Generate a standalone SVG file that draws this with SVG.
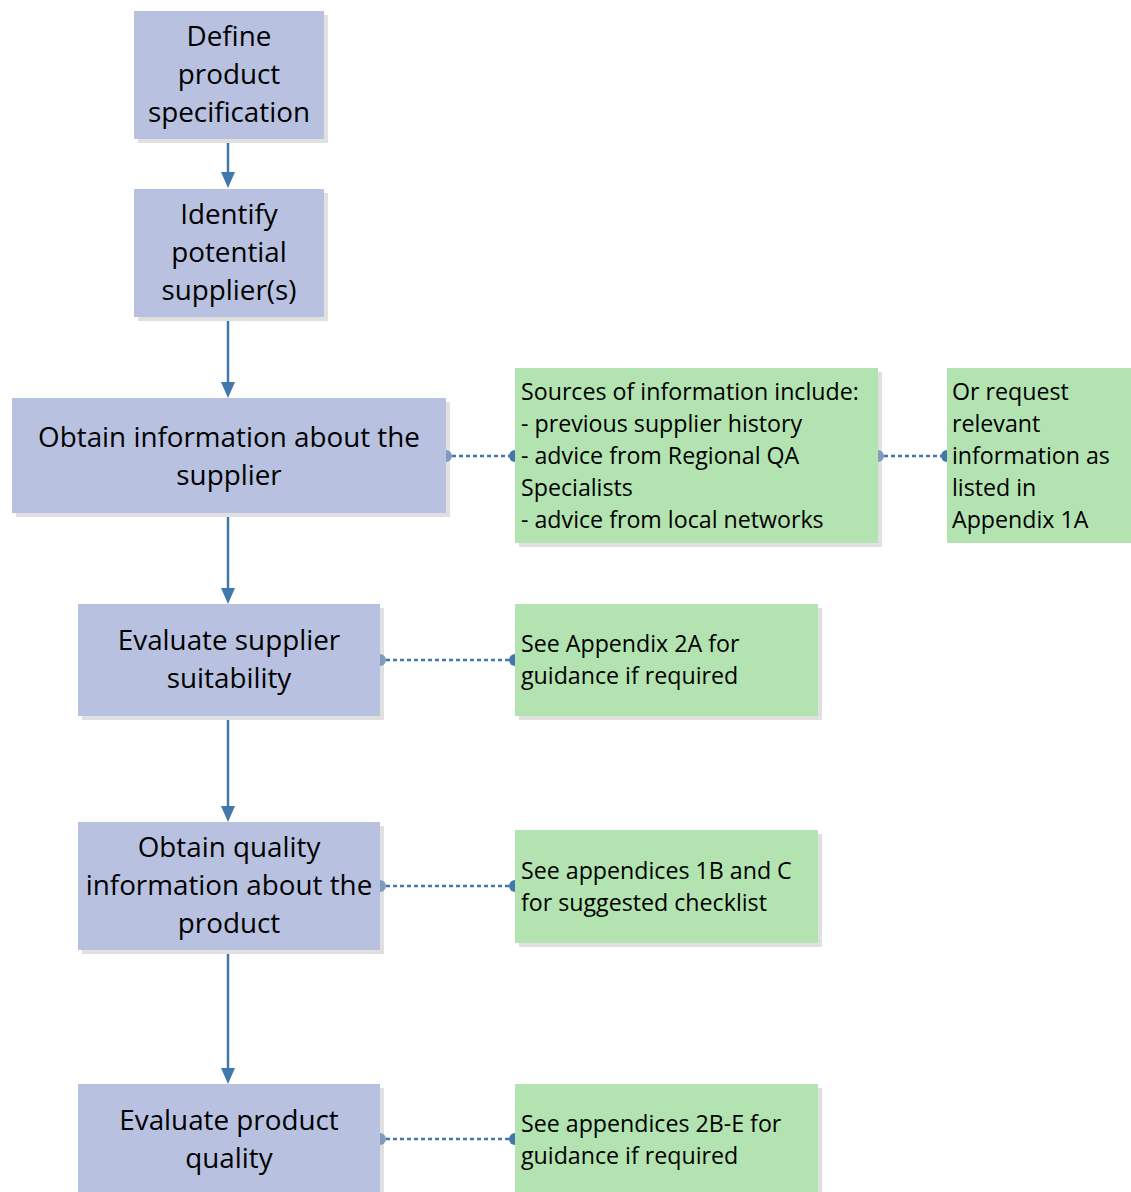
<svg xmlns="http://www.w3.org/2000/svg" width="1131" height="1192" viewBox="0 0 1131 1192">
<defs>
<style>
.sh{fill:#e0e0e0}
.bx{fill:#b8c2e0}
.gn{fill:#b3e3b0}
.t{font-family:"Open Sans",Lato,sans-serif;font-size:27.8px;fill:#000;text-anchor:middle}
.g{font-family:"Open Sans",Lato,sans-serif;font-size:23.2px;fill:#000}
.ar{stroke:#4277ab;stroke-width:2.5;fill:none}
.dt{stroke:#4277ab;stroke-width:2.5;stroke-dasharray:4 3;fill:none}
.dot{fill:#4277ab}
.dotl{fill:#7f9cbd}
</style>
</defs>
<rect width="1131" height="1192" fill="#fff"/>
<g id="connectors">
<line class="ar" x1="228" y1="139" x2="228" y2="173"/>
<path d="M221,172 L235,172 L228,188 Z" fill="#4277ab"/>
<line class="ar" x1="228" y1="317" x2="228" y2="383"/>
<path d="M221,382 L235,382 L228,398 Z" fill="#4277ab"/>
<line class="ar" x1="228" y1="513" x2="228" y2="589"/>
<path d="M221,588 L235,588 L228,604 Z" fill="#4277ab"/>
<line class="ar" x1="228" y1="716" x2="228" y2="807"/>
<path d="M221,806 L235,806 L228,822 Z" fill="#4277ab"/>
<line class="ar" x1="228" y1="950" x2="228" y2="1069"/>
<path d="M221,1068 L235,1068 L228,1084 Z" fill="#4277ab"/>
<line class="dt" x1="452" y1="456" x2="510" y2="456"/>
<line class="dt" x1="884" y1="456" x2="942" y2="456"/>
<line class="dt" x1="386" y1="660" x2="510" y2="660"/>
<line class="dt" x1="386" y1="886" x2="510" y2="886"/>
<line class="dt" x1="386" y1="1139" x2="510" y2="1139"/>
</g>
<g id="n1"><rect class="sh" x="138" y="15" width="190" height="128"/><rect class="bx" x="134" y="11" width="190" height="128"/>
<text class="t" x="229" y="46">Define</text><text class="t" x="229" y="84">product</text><text class="t" x="229" y="122">specification</text></g>
<g id="n2"><rect class="sh" x="138" y="193" width="190" height="128"/><rect class="bx" x="134" y="189" width="190" height="128"/>
<text class="t" x="229" y="224">Identify</text><text class="t" x="229" y="262">potential</text><text class="t" x="229" y="300">supplier(s)</text></g>
<g id="n3"><rect class="sh" x="16" y="402" width="434" height="115"/><rect class="bx" x="12" y="398" width="434" height="115"/>
<text class="t" x="229" y="447">Obtain information about the</text><text class="t" x="229" y="485">supplier</text></g>
<g id="n4"><rect class="sh" x="82" y="608" width="302" height="112"/><rect class="bx" x="78" y="604" width="302" height="112"/>
<text class="t" x="229" y="650">Evaluate supplier</text><text class="t" x="229" y="688">suitability</text></g>
<g id="n5"><rect class="sh" x="82" y="826" width="302" height="128"/><rect class="bx" x="78" y="822" width="302" height="128"/>
<text class="t" x="229" y="857">Obtain quality</text><text class="t" x="229" y="895">information about the</text><text class="t" x="229" y="933">product</text></g>
<g id="n6"><rect class="sh" x="82" y="1088" width="302" height="110"/><rect class="bx" x="78" y="1084" width="302" height="110"/>
<text class="t" x="229" y="1130">Evaluate product</text><text class="t" x="229" y="1168">quality</text></g>
<g id="g1"><rect class="sh" x="519" y="372" width="363" height="175"/><rect class="gn" x="515" y="368" width="363" height="175"/>
<text class="g" x="521" y="400">Sources of information include:</text>
<text class="g" x="521" y="432">- previous supplier history</text>
<text class="g" x="521" y="464">- advice from Regional QA</text>
<text class="g" x="521" y="496">Specialists</text>
<text class="g" x="521" y="528">- advice from local networks</text></g>
<g id="g2"><rect class="gn" x="947" y="368" width="184" height="175"/>
<text class="g" x="952" y="400">Or request</text>
<text class="g" x="952" y="432">relevant</text>
<text class="g" x="952" y="464">information as</text>
<text class="g" x="952" y="496">listed in</text>
<text class="g" x="952" y="528">Appendix 1A</text></g>
<g id="g3"><rect class="sh" x="519" y="608" width="303" height="112"/><rect class="gn" x="515" y="604" width="303" height="112"/>
<text class="g" x="521" y="652">See Appendix 2A for</text>
<text class="g" x="521" y="684">guidance if required</text></g>
<g id="g4"><rect class="sh" x="519" y="834" width="303" height="113"/><rect class="gn" x="515" y="830" width="303" height="113"/>
<text class="g" x="521" y="879">See appendices 1B and C</text>
<text class="g" x="521" y="911">for suggested checklist</text></g>
<g id="g5"><rect class="sh" x="519" y="1088" width="303" height="110"/><rect class="gn" x="515" y="1084" width="303" height="110"/>
<text class="g" x="521" y="1132">See appendices 2B-E for</text>
<text class="g" x="521" y="1164">guidance if required</text></g>
<g id="ends">
<path class="dotl" d="M446,450 A6,6 0 0 1 446,462 Z"/><path class="dot" d="M515,450 A6,6 0 0 0 515,462 Z"/>
<path class="dotl" d="M878,450 A6,6 0 0 1 878,462 Z"/><path class="dot" d="M947,450 A6,6 0 0 0 947,462 Z"/>
<path class="dotl" d="M380,654 A6,6 0 0 1 380,666 Z"/><path class="dot" d="M515,654 A6,6 0 0 0 515,666 Z"/>
<path class="dotl" d="M380,880 A6,6 0 0 1 380,892 Z"/><path class="dot" d="M515,880 A6,6 0 0 0 515,892 Z"/>
<path class="dotl" d="M380,1133 A6,6 0 0 1 380,1145 Z"/><path class="dot" d="M515,1133 A6,6 0 0 0 515,1145 Z"/>
</g>
</svg>
